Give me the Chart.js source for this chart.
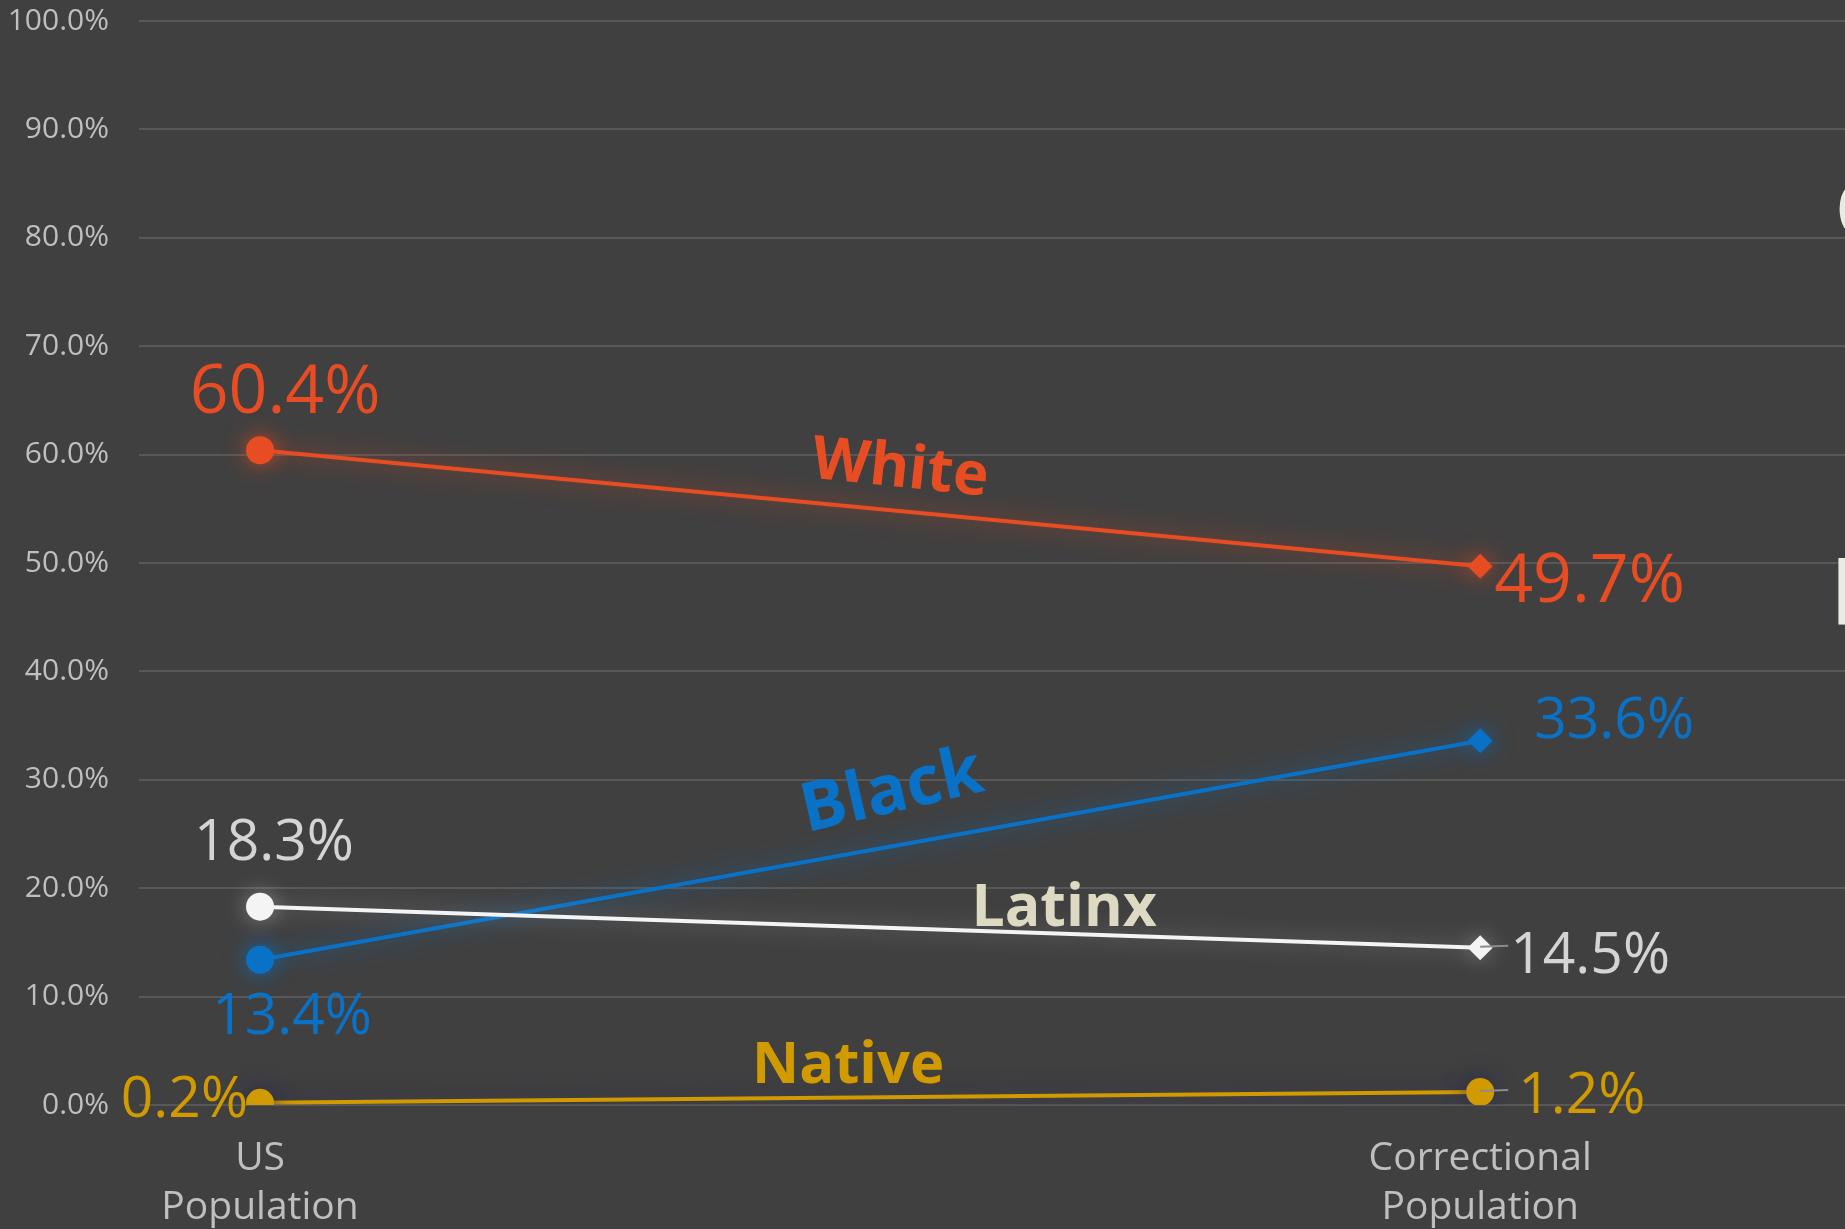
<!DOCTYPE html>
<html>
<head>
<meta charset="utf-8">
<script src="https://cdn.jsdelivr.net/npm/chart.js@4.4.1/dist/chart.umd.min.js"></script>
<style>
	html, body { margin: 0; padding: 0; background: #404040; overflow: hidden; }
	#wrap { width: 1845px; height: 1229px; position: relative; }
</style>
</head>
<body>
<div id="wrap"><canvas id="myChart"></canvas></div>
<script>
// data
var categories = [["US", "Population"], ["Correctional", "Population"]];
var seriesNames = ["Latinx", "White", "Black", "Native"];
var latinxValues = [18.3, 14.5];
var whiteValues = [60.4, 49.7];
var blackValues = [13.4, 33.6];
var nativeValues = [0.2, 1.2];
var yMin = 0, yMax = 100, yStep = 10;

var orange = "#e84c22";
var blue = "#0a72c6";
var white = "#f4f4f4";
var gold = "#d09a00";
var cream = "#ddd9c3";
var grey = "#d4d4d4";
var font = "'Open Sans', 'Noto Sans', sans-serif";

function pts(vals) {
	return vals.map(function(v, i) { return { x: i, y: v }; });
}

// glow behind each line
var glow = {
	Latinx: "rgba(255,255,255,0.35)",
	White: "rgba(232,76,34,0.75)",
	Black: "rgba(10,114,198,0.8)",
	Native: "rgba(40,40,85,0.9)"
};

// text placed next to the points (offsets only, values come from the data)
var valueLabels = [
	{ ds: 1, i: 0, dx: 25, dy: -62, align: "center", size: 68, color: orange },
	{ ds: 1, i: 1, dx: 14, dy: 11, align: "left", size: 68, color: orange },
	{ ds: 2, i: 1, dx: 54, dy: -23, align: "left", size: 57, color: blue },
	{ ds: 2, i: 0, dx: 32, dy: 54, align: "center", size: 57, color: blue },
	{ ds: 0, i: 0, dx: 14, dy: -67, align: "center", size: 57, color: grey },
	{ ds: 0, i: 1, dx: 30, dy: 5, align: "left", size: 57, color: grey },
	{ ds: 3, i: 0, dx: -12, dy: -6, align: "right", size: 57, color: gold },
	{ ds: 3, i: 1, dx: 38, dy: 0, align: "left", size: 57, color: gold }
];
var nameLabels = [
	{ ds: 1, t: 0.525, dy: -46, rot: 6, size: 60, color: orange },
	{ ds: 2, t: 0.517, dy: -59, rot: -13, size: 68, color: blue },
	{ ds: 0, t: 0.659, dy: -29, rot: 0, size: 59, color: cream },
	{ ds: 3, t: 0.482, dy: -35, rot: 0, size: 58, color: gold }
];

var glowPlugin = {
	id: "glow",
	beforeDatasetDraw: function(chart, args) {
		var ctx = chart.ctx;
		ctx.save();
		ctx.shadowColor = glow[args.meta.label] || "transparent";
		ctx.shadowBlur = 22;
	},
	afterDatasetDraw: function(chart) {
		chart.ctx.restore();
	}
};

var labelPlugin = {
	id: "labels",
	afterDatasetsDraw: function(chart) {
		var ctx = chart.ctx;
		ctx.save();
		// small leader lines
		[0, 3].forEach(function(d) {
			var p = chart.getDatasetMeta(d).data[1];
			ctx.strokeStyle = "#8c8c8c";
			ctx.lineWidth = 2;
			ctx.beginPath();
			ctx.moveTo(p.x, p.y - 1);
			ctx.lineTo(p.x + 28, p.y - 2);
			ctx.stroke();
		});
		valueLabels.forEach(function(l) {
			var p = chart.getDatasetMeta(l.ds).data[l.i];
			var v = chart.data.datasets[l.ds].data[l.i].y;
			ctx.font = l.size + "px " + font;
			ctx.fillStyle = l.color;
			ctx.textAlign = l.align;
			ctx.textBaseline = "alphabetic";
			ctx.fillText(v.toFixed(1) + "%", p.x + l.dx, p.y + l.dy + 0.36 * l.size);
		});
		nameLabels.forEach(function(l) {
			var d = chart.getDatasetMeta(l.ds).data;
			var x = d[0].x + (d[1].x - d[0].x) * l.t;
			var y = d[0].y + (d[1].y - d[0].y) * l.t + l.dy;
			ctx.save();
			ctx.translate(x, y);
			ctx.rotate(l.rot * Math.PI / 180);
			ctx.font = "bold " + l.size + "px " + font;
			ctx.fillStyle = l.color;
			ctx.textAlign = "center";
			ctx.textBaseline = "alphabetic";
			ctx.fillText(chart.data.datasets[l.ds].label, 0, 0.36 * l.size);
			ctx.restore();
		});
		// bits of a title cut off at the right edge
		ctx.fillStyle = "#ecebe2";
		ctx.textAlign = "left";
		ctx.font = "bold 80px " + font;
		ctx.fillText("C", 1835, 237);
		ctx.font = "bold 94px " + font;
		ctx.fillText("P", 1830, 625);
		ctx.restore();
	}
};

function line(name, vals, color, styles, radii) {
	return {
		label: name,
		data: pts(vals),
		borderColor: color,
		backgroundColor: color,
		borderWidth: 4,
		pointStyle: styles,
		pointRadius: radii,
		pointBorderWidth: 0,
		pointBackgroundColor: color,
		tension: 0
	};
}

new Chart("myChart", {
	type: "line",
	data: {
		datasets: [
			line(seriesNames[0], latinxValues, white, ["circle", "rectRot"], [14, 12.5]),
			line(seriesNames[1], whiteValues, orange, ["circle", "rectRot"], [14, 12.5]),
			line(seriesNames[2], blackValues, blue, ["circle", "rectRot"], [14, 12.5]),
			line(seriesNames[3], nativeValues, gold, ["circle", "circle"], [14, 14])
		]
	},
	options: {
		responsive: true,
		maintainAspectRatio: false,
		animation: false,
		devicePixelRatio: 1,
		layout: { autoPadding: false, padding: { top: 21, left: 0, right: 0, bottom: 0 } },
		plugins: {
			legend: { display: false },
			tooltip: { enabled: false }
		},
		scales: {
			x: {
				type: "linear",
				min: -0.0992,
				max: 1.299,
				grid: { display: false },
				border: { display: false },
				afterBuildTicks: function(s) { s.ticks = [{ value: 0 }, { value: 1 }]; },
				afterFit: function(s) {
					s.height = 124;
					s.paddingLeft = 0;
					s.paddingRight = 0;
				},
				ticks: {
					autoSkip: false,
					maxRotation: 0,
					padding: 22,
					color: "#bfbfbf",
					font: { family: font, size: 39, lineHeight: 1.25 },
					callback: function(v) { return categories[v] || ""; }
				}
			},
			y: {
				min: yMin,
				max: yMax,
				grid: { color: "#585858", lineWidth: 2, drawTicks: false },
				border: { display: false },
				afterFit: function(s) {
					s.width = 139;
					s.paddingTop = 0;
					s.paddingBottom = 0;
				},
				ticks: {
					stepSize: yStep,
					padding: 30,
					color: "#bfbfbf",
					font: { family: font, size: 30 },
					callback: function(v) { return v.toFixed(1) + "%"; }
				}
			}
		}
	},
	plugins: [glowPlugin, labelPlugin]
});
</script>
</body>
</html>
